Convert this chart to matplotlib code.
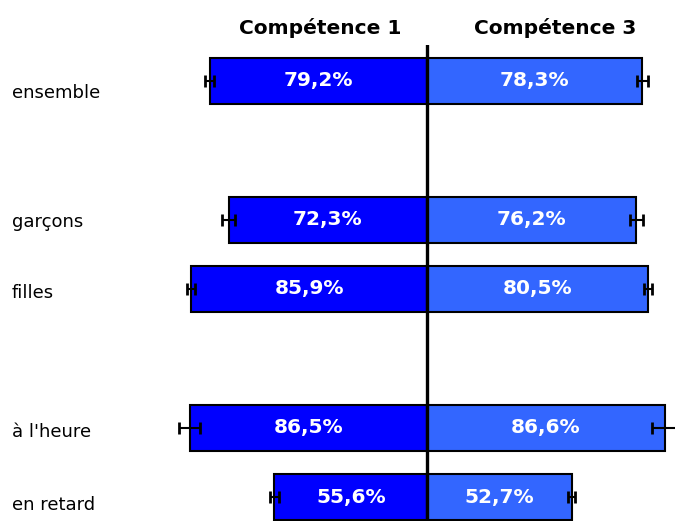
import matplotlib
matplotlib.use("Agg")
import matplotlib.pyplot as plt
from matplotlib.transforms import blended_transform_factory

# data
categories = ['ensemble', 'garçons', 'filles', "à l'heure", 'en retard']
comp1 = [79.2, 72.3, 85.9, 86.5, 55.6]
comp3 = [78.3, 76.2, 80.5, 86.6, 52.7]
err1 = [1.6, 2.3, 1.4, 3.9, 1.6]
err3 = [2.0, 2.3, 1.4, 4.6, 1.2]
headers = ['Compétence 1', 'Compétence 3']

# layout
pos = [0, 2, 3, 5, 6]
label_dy = [0.25, 0.1, 0.13, 0.14, 0.19]
BAR_H = 0.663
C1 = '#0000FF'
C3 = '#3366FF'

plt.rcParams['font.family'] = 'DejaVu Sans'

fig = plt.figure(figsize=(6.75, 5.21), dpi=100)
ax = fig.add_axes([160 / 675, 0, 515 / 675, 476 / 521])

ax.barh(pos, [-v for v in comp1], height=BAR_H, color=C1, edgecolor='black', linewidth=1.5)
ax.barh(pos, comp3, height=BAR_H, color=C3, edgecolor='black', linewidth=1.5)

ax.errorbar([-v for v in comp1], pos, xerr=err1, fmt='none', ecolor='black',
            elinewidth=1.5, capsize=4, capthick=2, zorder=4)
ax.errorbar(comp3, pos, xerr=err3, fmt='none', ecolor='black',
            elinewidth=1.5, capsize=4, capthick=2, zorder=4)

for y, a, b in zip(pos, comp1, comp3):
    ax.text(-a / 2, y, f'{a:.1f}%'.replace('.', ','), color='white', fontsize=14.5,
            fontweight='bold', ha='center', va='center')
    ax.text(b / 2, y, f'{b:.1f}%'.replace('.', ','), color='white', fontsize=14.5,
            fontweight='bold', ha='center', va='center')

ax.axvline(0, color='black', linewidth=2.4, zorder=5)

ax.set_xlim(-97.3, 90.3)
ax.set_ylim(6.346, -0.519)
ax.axis('off')

# category labels on the left
trans = blended_transform_factory(fig.transFigure, ax.transData)
for y, dy, name in zip(pos, label_dy, categories):
    ax.text(12 / 675, y + dy, name, transform=trans,
            fontsize=13, ha='left', va='baseline')

for xc, h in zip([320 / 675, 555 / 675], headers):
    fig.text(xc, 1 - 34.5 / 521, h, fontsize=14.5, fontweight='bold',
             ha='center', va='baseline')

fig.savefig('out.png', dpi=100)
